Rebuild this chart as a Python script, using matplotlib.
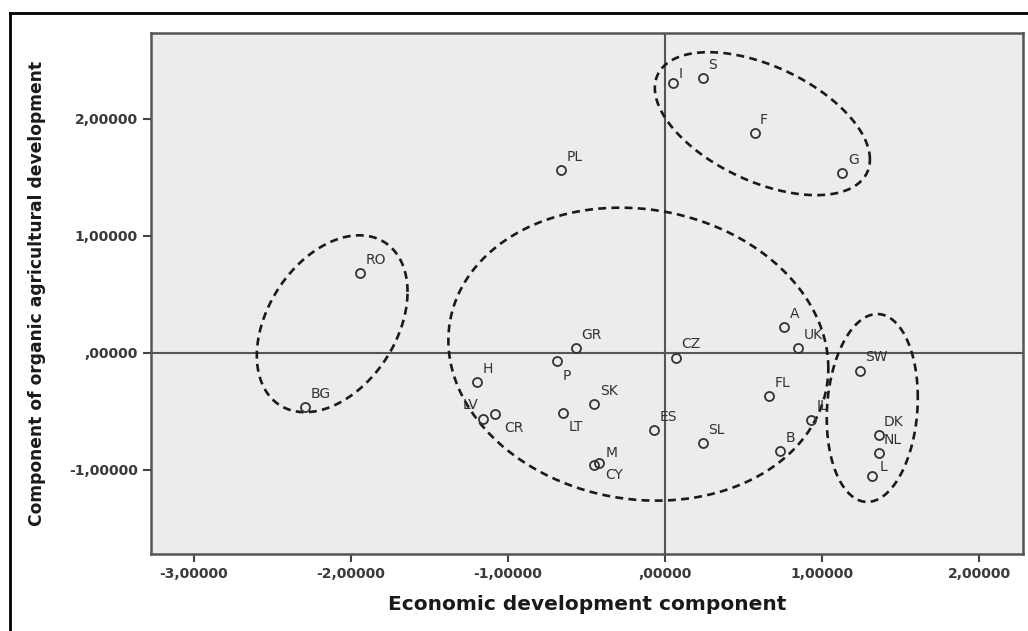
#Scatter of EU countries on two principal components with dashed cluster ellipses
import numpy as np
import matplotlib
matplotlib.use("Agg")
import matplotlib.pyplot as plt
from matplotlib.lines import Line2D

countries = ["RO", "PL", "I", "S", "F", "G", "A", "UK", "SW", "FL", "IL", "B", "DK", "NL",
             "L", "SL", "ES", "CZ", "GR", "P", "SK", "LT", "M", "CY", "H", "LV", "CR", "BG"]
economic = [-1.94, -0.66, 0.05, 0.24, 0.57, 1.13, 0.76, 0.85, 1.24, 0.66, 0.93, 0.73, 1.36, 1.36,
            1.32, 0.24, -0.07, 0.07, -0.57, -0.69, -0.45, -0.65, -0.42, -0.45, -1.20, -1.16, -1.08, -2.29]
organic = [0.68, 1.56, 2.31, 2.35, 1.88, 1.54, 0.22, 0.04, -0.15, -0.37, -0.57, -0.84, -0.70, -0.855,
           -1.05, -0.77, -0.66, -0.04, 0.04, -0.07, -0.44, -0.51, -0.94, -0.96, -0.25, -0.56, -0.52, -0.46]

xticks = [-3, -2, -1, 0, 1, 2]
yticks = [-1, 0, 1, 2]

# cluster ellipses: centre, half width, half height, tilt correlation (data units)
ell_cx = [-2.12, 0.62, -0.17, 1.32]
ell_cy = [0.25, 1.96, -0.01, -0.47]
ell_hx = [0.48, 0.685, 1.21, 0.29]
ell_hy = [0.756, 0.611, 1.252, 0.803]
ell_rho = [0.36, -0.50, -0.095, 0.11]

# label offsets in points (default up-right)
default_off = (4, 9.5)
label_off = {"P": (4, -11), "LT": (4, -10), "CY": (8, -7), "CR": (6, -10),
             "LV": (-3, 9.5), "L": (5, 6.5), "I": (4, 6), "M": (5, 7)}


def fmt(v):
    s = "%.5f" % v
    s = s.replace(".", ",")
    if s.startswith("0,"):
        s = s[1:]
    return s


fig = plt.figure(figsize=(10.28, 6.31), dpi=100)
ax = fig.add_axes([151 / 1028, 1 - 554 / 631, (1023 - 151) / 1028, (554 - 33) / 631])
ax.set_facecolor("#ececec")
ax.set_xlim(-3.274, 2.28)
ax.set_ylim(-1.718, 2.735)

ax.axhline(0, color="#555555", lw=1.5, zorder=1)
ax.axvline(0, color="#555555", lw=1.5, zorder=1)

t = np.linspace(0, 2 * np.pi, 400)
for cx, cy, hx, hy, rho in zip(ell_cx, ell_cy, ell_hx, ell_hy, ell_rho):
    ex = cx + hx * np.cos(t)
    ey = cy + hy * (rho * np.cos(t) + np.sqrt(1 - rho ** 2) * np.sin(t))
    ax.plot(ex, ey, color="#1a1a1a", lw=1.9, linestyle=(0, (3.0, 2.0)), zorder=2)

ax.plot(economic, organic, linestyle="none", marker="o", markersize=6.5,
        markerfacecolor="none", markeredgecolor="#333333", markeredgewidth=1.3, zorder=3)

for name, xv, yv in zip(countries, economic, organic):
    off = label_off.get(name, default_off)
    ax.annotate(name, (xv, yv), xytext=off, textcoords="offset points",
                ha="right" if off[0] < 0 else "left", va="center",
                fontsize=10, color="#333333", zorder=4)

ax.set_xticks(xticks)
ax.set_xticklabels([fmt(v) for v in xticks])
ax.set_yticks(yticks)
ax.set_yticklabels([fmt(v) for v in yticks])
ax.tick_params(length=6, width=1.5, color="#444444", labelsize=10, labelcolor="#3a3a3a")
for lab in ax.get_xticklabels() + ax.get_yticklabels():
    lab.set_fontweight("bold")
for side in ["top", "right", "bottom", "left"]:
    ax.spines[side].set_color("#555555")
    ax.spines[side].set_linewidth(1.8)

fig.text(587 / 1028, 1 - 605 / 631, "Economic development component", ha="center", va="center",
         fontsize=14.5, fontweight="bold", color="#1a1a1a")
fig.text(37 / 1028, 1 - 293 / 631, "Component of organic agricultural development", ha="center",
         va="center", rotation=90, fontsize=12.3, fontweight="bold", color="#1a1a1a")

# outer frame (top and left edges visible)
fig.add_artist(Line2D([10 / 1028, 1], [1 - 13 / 631, 1 - 13 / 631], color="black", lw=2,
                      transform=fig.transFigure))
fig.add_artist(Line2D([10 / 1028, 10 / 1028], [0, 1 - 13 / 631], color="black", lw=2,
                      transform=fig.transFigure))

fig.savefig("out.png", dpi=100)
